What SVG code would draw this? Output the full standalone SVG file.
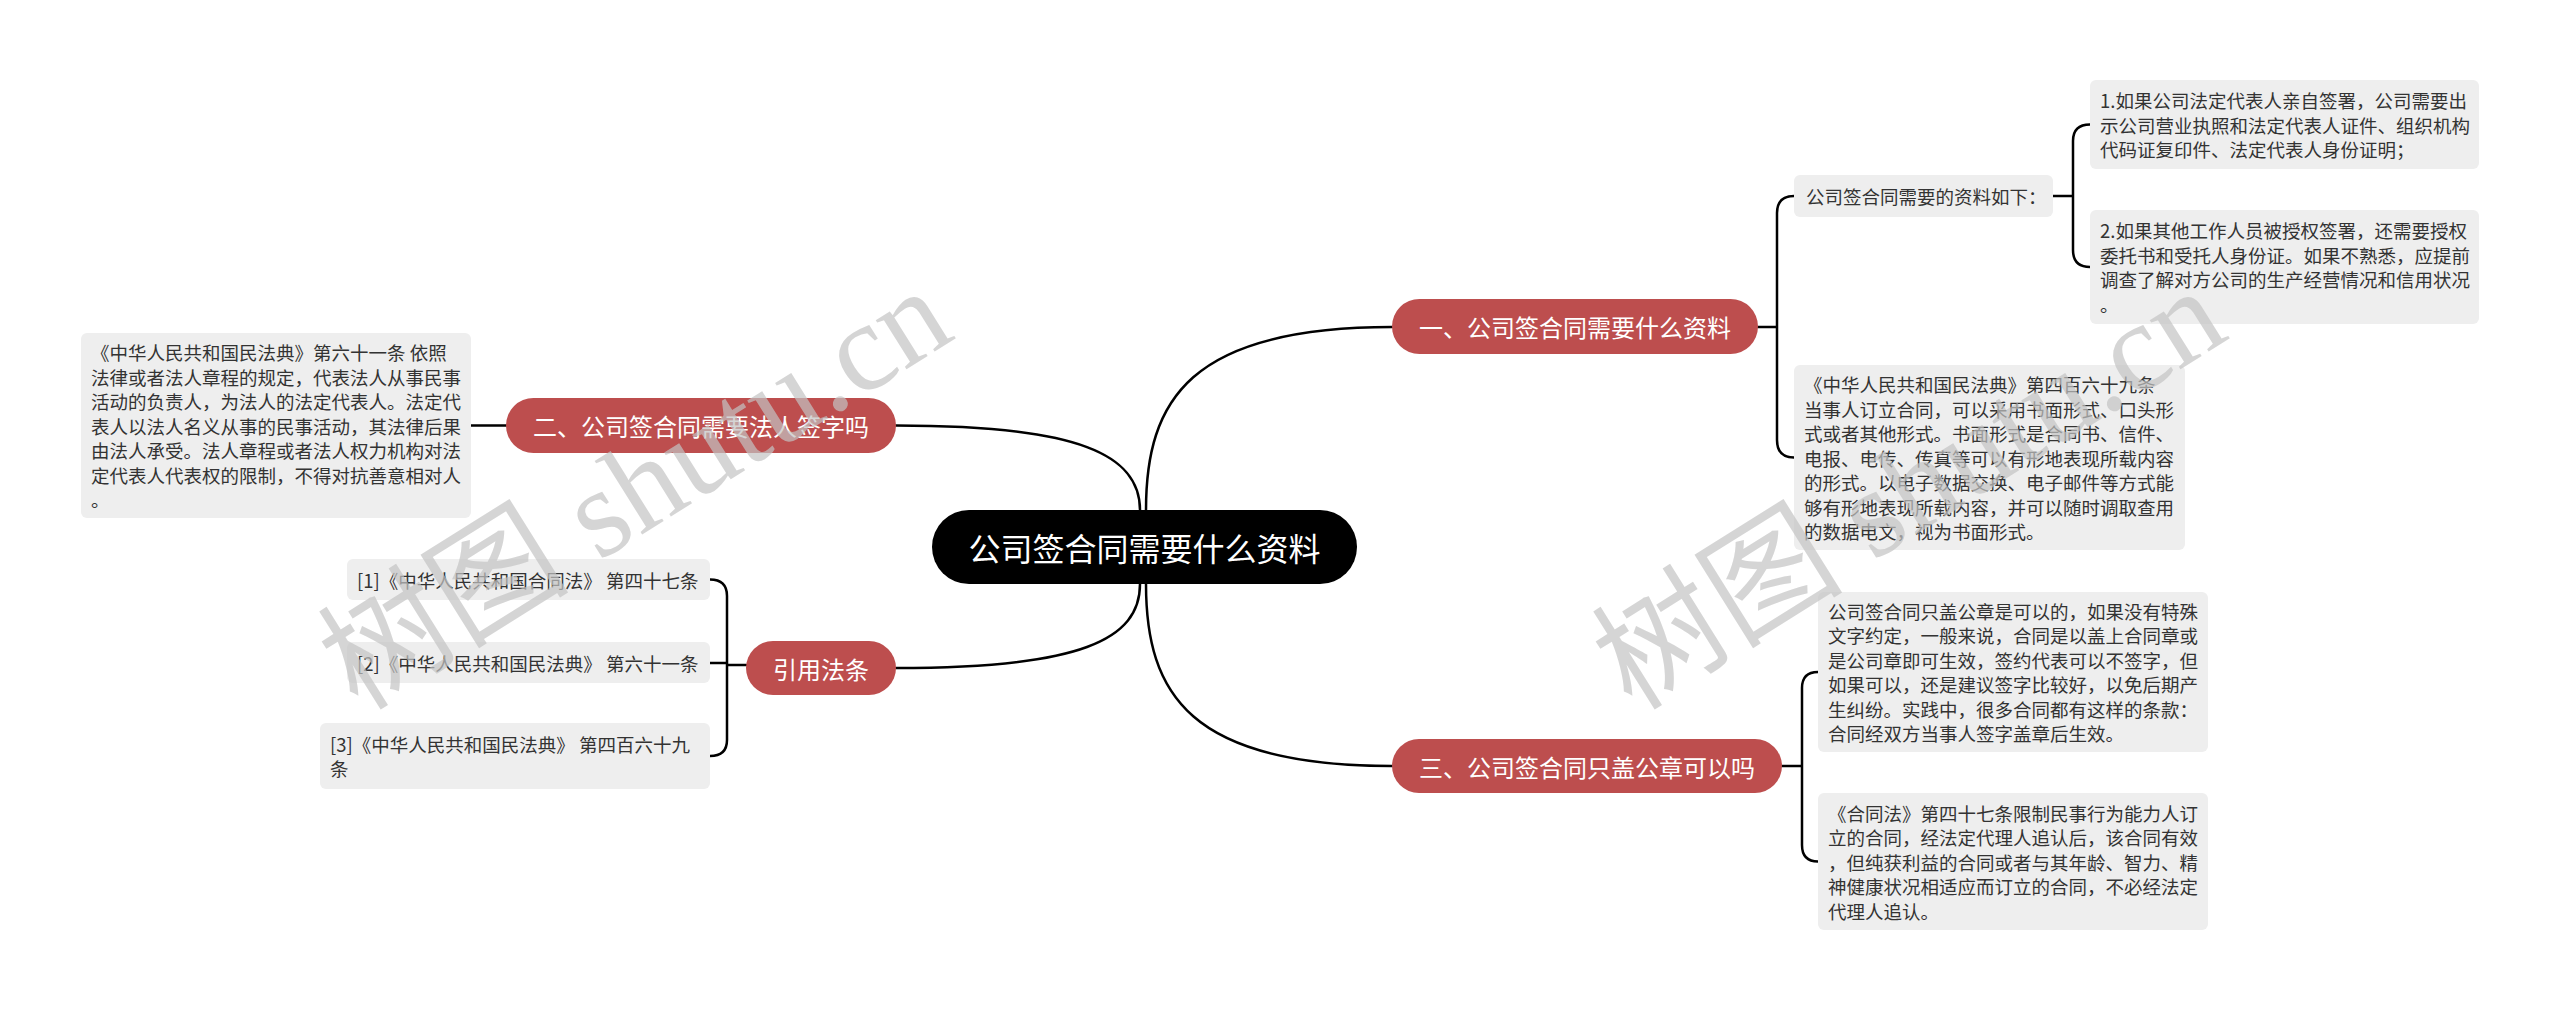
<svg xmlns="http://www.w3.org/2000/svg" width="2560" height="1011" viewBox="0 0 2560 1011">
<style>
.bg{fill:#ffffff}
.red rect{fill:#bd4e4e}
.red text{fill:#ffffff;font-family:"Noto Sans CJK SC","Noto Sans",sans-serif;font-size:24px;text-anchor:middle;dominant-baseline:central}
.root rect{fill:#000000}
.root text{fill:#ffffff;font-family:"Noto Sans CJK SC","Noto Sans",sans-serif;font-size:32px;text-anchor:middle;dominant-baseline:central}
.leaf rect{fill:#eeeeee}
.leaf text{fill:#333333;font-family:"Noto Sans CJK SC","Noto Sans",sans-serif;font-size:18.5px;dominant-baseline:central}
.conn path{fill:none;stroke:#000000;stroke-width:2.5;stroke-linecap:round}
.wm{fill:#c4c4c4;opacity:0.7;font-family:"Liberation Serif","Noto Sans CJK SC",serif;font-size:126px}
</style>
<rect class="bg" x="0" y="0" width="2560" height="1011"/>

<g id="connectors" class="conn">
  <path d="M1146 510 C1146 400 1190 327 1392 327"/>
  <path d="M1140 510 C1140 455 1080 425.5 896 425.5"/>
  <path d="M1146 584 C1146 694 1190 766 1392 766"/>
  <path d="M1140 584 C1140 640 1080 668 896 668"/>
  <path d="M1758 327 L1777 327 M1794 196 Q1777 196 1777 213 L1777 440 Q1777 457.5 1794 457.5"/>
  <path d="M2053 196 L2073 196 M2090 124.5 Q2073 124.5 2073 141 L2073 250 Q2073 267 2090 267"/>
  <path d="M1782 766 L1802 766 M1818 672 Q1802 672 1802 688 L1802 845 Q1802 861.5 1818 861.5"/>
  <path d="M471 425.5 L506 425.5"/>
  <path d="M746 665 L727 665 M710 579.5 Q727 579.5 727 596 L727 740 Q727 756 710 756 M710 663 L727 663"/>
</g>

<g id="root" class="root">
  <rect x="932" y="510" width="425" height="74" rx="37"/>
  <text x="1144.5" y="547">公司签合同需要什么资料</text>
</g>

<g id="n1" class="red">
  <rect x="1392" y="299" width="366" height="55" rx="27.5"/>
  <text x="1575" y="326.5">一、公司签合同需要什么资料</text>
</g>
<g id="n3" class="red">
  <rect x="1392" y="739" width="390" height="54" rx="27"/>
  <text x="1587" y="766">三、公司签合同只盖公章可以吗</text>
</g>
<g id="n2" class="red">
  <rect x="506" y="398" width="390" height="55" rx="27.5"/>
  <text x="701" y="425.5">二、公司签合同需要法人签字吗</text>
</g>
<g id="n4" class="red">
  <rect x="746" y="641" width="150" height="54" rx="27"/>
  <text x="821" y="668">引用法条</text>
</g>

<g id="n1a" class="leaf">
  <rect x="1794" y="175" width="259" height="42" rx="6"/>
  <text x="1806" y="196">公司签合同需要的资料如下：</text>
</g>
<g id="n1a1" class="leaf">
  <rect x="2090" y="80" width="389" height="89" rx="6"/>
  <text><tspan x="2100" y="100">1.如果公司法定代表人亲自签署，公司需要出</tspan><tspan x="2100" y="124.5">示公司营业执照和法定代表人证件、组织机构</tspan><tspan x="2100" y="149">代码证复印件、法定代表人身份证明；</tspan></text>
</g>
<g id="n1a2" class="leaf">
  <rect x="2090" y="210" width="389" height="114" rx="6"/>
  <text><tspan x="2100" y="230.25">2.如果其他工作人员被授权签署，还需要授权</tspan><tspan x="2100" y="254.75">委托书和受托人身份证。如果不熟悉，应提前</tspan><tspan x="2100" y="279.25">调查了解对方公司的生产经营情况和信用状况</tspan><tspan x="2100" y="303.75">。</tspan></text>
</g>
<g id="n1b" class="leaf">
  <rect x="1794" y="365" width="391" height="185" rx="6"/>
  <text><tspan x="1804" y="384">《中华人民共和国民法典》第四百六十九条</tspan><tspan x="1804" y="408.5">当事人订立合同，可以采用书面形式、口头形</tspan><tspan x="1804" y="433">式或者其他形式。书面形式是合同书、信件、</tspan><tspan x="1804" y="457.5">电报、电传、传真等可以有形地表现所载内容</tspan><tspan x="1804" y="482">的形式。以电子数据交换、电子邮件等方式能</tspan><tspan x="1804" y="506.5">够有形地表现所载内容，并可以随时调取查用</tspan><tspan x="1804" y="531">的数据电文，视为书面形式。</tspan></text>
</g>

<g id="n3a" class="leaf">
  <rect x="1818" y="592" width="390" height="160" rx="6"/>
  <text><tspan x="1828" y="610.75">公司签合同只盖公章是可以的，如果没有特殊</tspan><tspan x="1828" y="635.25">文字约定，一般来说，合同是以盖上合同章或</tspan><tspan x="1828" y="659.75">是公司章即可生效，签约代表可以不签字，但</tspan><tspan x="1828" y="684.25">如果可以，还是建议签字比较好，以免后期产</tspan><tspan x="1828" y="708.75">生纠纷。实践中，很多合同都有这样的条款：</tspan><tspan x="1828" y="733.25">合同经双方当事人签字盖章后生效。</tspan></text>
</g>
<g id="n3b" class="leaf">
  <rect x="1818" y="793" width="390" height="137" rx="6"/>
  <text><tspan x="1828" y="812.5">《合同法》第四十七条限制民事行为能力人订</tspan><tspan x="1828" y="837">立的合同，经法定代理人追认后，该合同有效</tspan><tspan x="1828" y="861.5">，但纯获利益的合同或者与其年龄、智力、精</tspan><tspan x="1828" y="886">神健康状况相适应而订立的合同，不必经法定</tspan><tspan x="1828" y="910.5">代理人追认。</tspan></text>
</g>

<g id="n2a" class="leaf">
  <rect x="81" y="333" width="390" height="185" rx="6"/>
  <text><tspan x="91" y="352">《中华人民共和国民法典》第六十一条 依照</tspan><tspan x="91" y="376.5">法律或者法人章程的规定，代表法人从事民事</tspan><tspan x="91" y="401">活动的负责人，为法人的法定代表人。法定代</tspan><tspan x="91" y="425.5">表人以法人名义从事的民事活动，其法律后果</tspan><tspan x="91" y="450">由法人承受。法人章程或者法人权力机构对法</tspan><tspan x="91" y="474.5">定代表人代表权的限制，不得对抗善意相对人</tspan><tspan x="91" y="499">。</tspan></text>
</g>

<g id="r1" class="leaf">
  <rect x="347" y="559" width="363" height="41" rx="6"/>
  <text x="357" y="579.5">[1]《中华人民共和国合同法》 第四十七条</text>
</g>
<g id="r2" class="leaf">
  <rect x="347" y="642" width="363" height="41" rx="6"/>
  <text x="357" y="662.5">[2]《中华人民共和国民法典》 第六十一条</text>
</g>
<g id="r3" class="leaf">
  <rect x="320" y="723" width="390" height="66" rx="6"/>
  <text><tspan x="330" y="743.75">[3]《中华人民共和国民法典》 第四百六十九</tspan><tspan x="330" y="768.25">条</tspan></text>
</g>

<g id="watermarks">
  <text class="wm" transform="translate(358 712) rotate(-32)">树图 shutu.cn</text>
  <text class="wm" transform="translate(1632 712) rotate(-32)">树图 shutu.cn</text>
</g>
</svg>
